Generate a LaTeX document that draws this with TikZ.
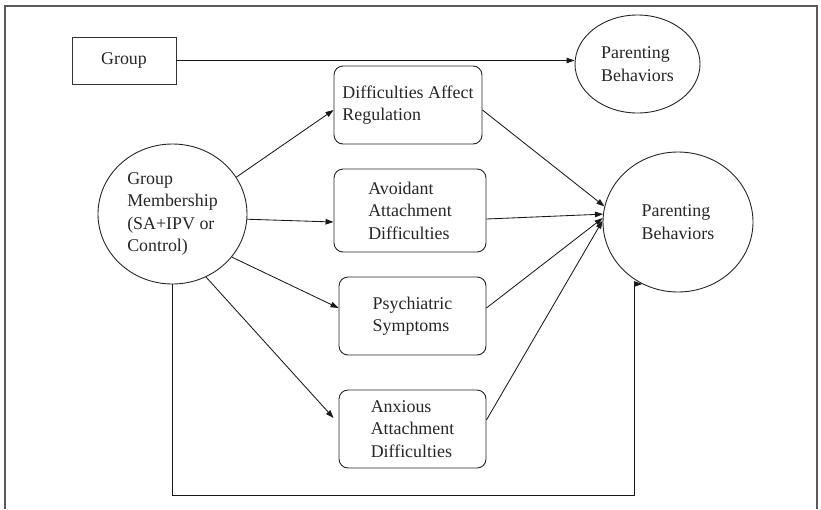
\documentclass[tikz,border=0pt]{standalone}
\usepackage{fontspec}
\setmainfont{Liberation Serif}
\usetikzlibrary{shapes.geometric,arrows.meta}
\begin{document}
\begin{tikzpicture}[x=1pt,y=-1pt,
  every node/.style={font=\fontsize{17.9}{22.5}\selectfont, text=black!85, align=left, inner sep=0pt},
  sqbox/.style={draw=black!80, line width=0.9pt, rectangle},
  rbox/.style={draw=black!85, line width=0.9pt, rectangle, rounded corners=9pt},
  oval/.style={draw=black!85, line width=0.9pt, ellipse},
  conn/.style={draw=black!90, line width=0.85pt},
  arr/.style={conn, -{Triangle[length=8pt,width=5.5pt]}}
]
\useasboundingbox (0,0) rectangle (821,509);
\draw[draw=black!65, line width=1.3pt] (5,509) -- (5,6) -- (817,6) -- (817,509);

\node[sqbox, minimum width=104pt, minimum height=47pt] (grp) at (124,60.5) {Group};
\node[oval, minimum width=125pt, minimum height=98pt] (pt1) at (637.5,64) {Parenting\\Behaviors};
\node[oval, minimum width=149pt, minimum height=140pt] (gm) at (172.5,214) {Group\\Membership\\(SA+IPV or\\Control)};
\node[rbox, minimum width=148pt, minimum height=78pt] (dar) at (408,105) {Difficulties Affect\\Regulation};
\node[rbox, minimum width=152pt, minimum height=83pt] (av) at (410,210.5) {Avoidant\\Attachment\\Difficulties};
\node[rbox, minimum width=147pt, minimum height=78pt] (ps) at (412.5,316) {Psychiatric\\Symptoms};
\node[rbox, minimum width=147pt, minimum height=78pt] (ax) at (412.5,429) {Anxious\\Attachment\\Difficulties};
\node[oval, minimum width=150pt, minimum height=140pt] (pb) at (678,222) {Parenting\\Behaviors};
\coordinate (c1) at (634,495);

\draw[arr] (grp.east) -- (pt1.west |- grp.east);
\draw[arr] (gm.30) -- ([yshift=-5pt]dar.west);
\draw[arr] (gm.-4) -- ([yshift=-11.5pt]av.west);
\draw[arr] (gm.-36) -- ([yshift=8pt]ps.west);
\draw[arr] (gm.-62) -- ([xshift=-5pt,yshift=11pt]ax.west);
\draw[arr] ([yshift=-5pt]dar.east) -- (pb.168);
\draw[arr] ([yshift=-8.5pt]av.east) -- (pb.174);
\draw[arr] ([yshift=8pt]ps.east) -- (pb.177);
\draw[arr] ([yshift=9pt]ax.east) -- (pb.179);
\draw[arr] (gm.south) |- (c1) |- (pb.240);
\end{tikzpicture}
\end{document}
